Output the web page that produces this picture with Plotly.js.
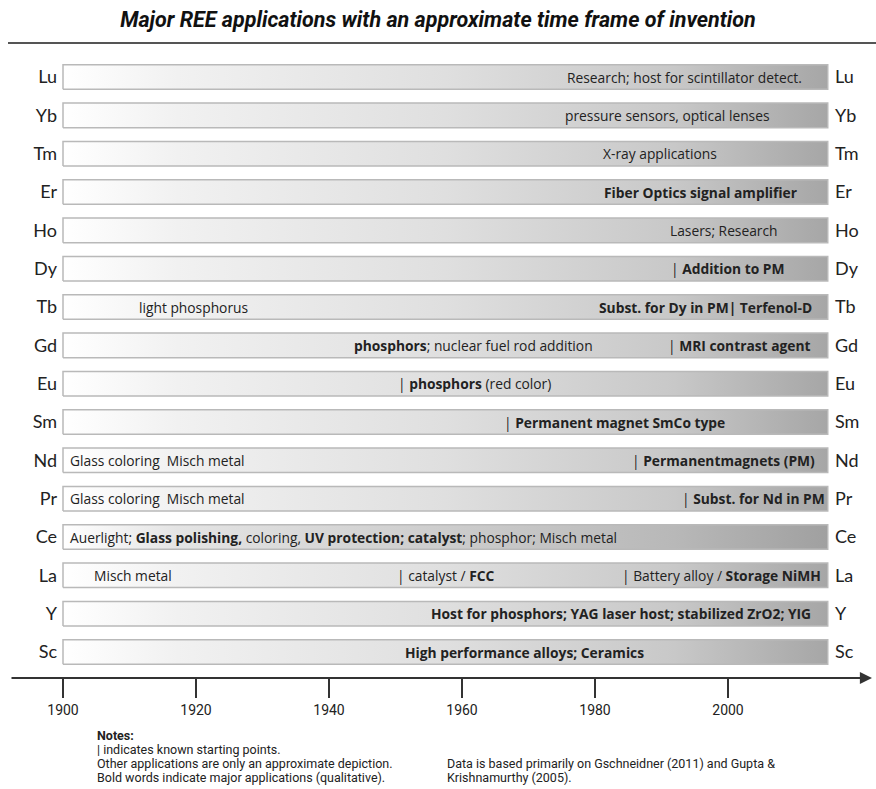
<!DOCTYPE html>
<html>
<head>
<meta charset="utf-8">
<script src="https://cdn.plot.ly/plotly-3.0.1.min.js"></script>
<style>html,body{margin:0;padding:0;background:#fff;}#chart{width:876px;height:789px;}</style>
</head>
<body>
<div id="chart"></div>
<script>
// ---- data ----
const elements = ['Lu','Yb','Tm','Er','Ho','Dy','Tb','Gd','Eu','Sm','Nd','Pr','Ce','La','Y','Sc'];
const barStart = [1900,1900,1900,1900,1900,1900,1900,1900,1900,1900,1900,1900,1900,1900,1900,1900];
const barEnd   = [2015,2015,2015,2015,2015,2015,2015,2015,2015,2015,2015,2015,2015,2015,2015,2015];
const xTicks = [1900,1920,1940,1960,1980,2000];

const labelElement = ['Lu','Yb','Tm','Er','Ho','Dy','Tb','Tb','Gd','Gd','Eu','Sm','Nd','Nd','Pr','Pr','Ce','La','La','La','Y','Sc'];
const labelYear = [1975.5,1975.2,1980.9,1981.1,1991.0,1991.1,1911.1,1980.3,1943.5,1990.7,1950.1,1966.0,1900.75,1985.3,1900.75,1992.8,1900.75,1904.4,1949.9,1983.8,1955.0,1951.1];
const labelText = [
  'Research; host for scintillator detect.',
  'pressure sensors, optical lenses',
  'X-ray applications',
  '<b>Fiber Optics signal amplifier</b>',
  'Lasers; Research',
  '| <b>Addition to PM</b>',
  'light phosphorus',
  '<b>Subst. for Dy in PM| Terfenol-D</b>',
  '<b>phosphors</b>; nuclear fuel rod addition',
  '| <b>MRI contrast agent</b>',
  '| <b>phosphors</b> (red color)',
  '| <b>Permanent magnet SmCo type</b>',
  'Glass coloring  Misch metal',
  '| <b>Permanentmagnets (PM)</b>',
  'Glass coloring  Misch metal',
  '| <b>Subst. for Nd in PM</b>',
  'Auerlight; <b>Glass polishing,</b> coloring, <b>UV protection; catalyst</b>; phosphor; Misch metal',
  'Misch metal',
  '| catalyst / <b>FCC</b>',
  '| Battery alloy / <b>Storage NiMH</b>',
  '<b>Host for phosphors; YAG laser host; stabilized ZrO2; YIG</b>',
  '<b>High performance alloys; Ceramics</b>'
];

const titleText = '<b><i>Major REE applications with an approximate time frame of invention</i></b>';
const notesLeft = ['<b>Notes:</b>', '| indicates known starting points.',
  'Other applications are only an approximate depiction.',
  'Bold words indicate major applications (qualitative).'];
const notesRight = ['Data is based primarily on Gschneidner (2011) and Gupta &amp;', 'Krishnamurthy (2005).'];

// ---- build ----
const n = elements.length;
const rowPos = elements.map((e, i) => n - 1 - i);
const half = 0.32;
const FONT = '"Open Sans", "Noto Sans", sans-serif';
const SMALL = 'Roboto, "Open Sans", sans-serif';

const normalScale = [[0,'#ffffff'],[0.15,'#f1f1f1'],[0.5,'#dfdfdf'],[0.8,'#c8c8c8'],[1,'#a6a6a6']];
const darkScale   = [[0,'#ffffff'],[0.15,'#e4e4e4'],[0.5,'#cdcdcd'],[0.8,'#b8b8b8'],[1,'#a0a0a0']];

const traces = elements.map((el, i) => {
  const y = rowPos[i];
  const s = barStart[i], e = barEnd[i];
  return {
    type: 'scatter', mode: 'lines',
    x: [s, e, e, s, s],
    y: [y - half, y - half, y + half, y + half, y - half],
    fill: 'toself',
    fillgradient: {type: 'horizontal', colorscale: el === 'Ce' ? darkScale : normalScale, start: s, stop: e},
    line: {color: '#b9b9b9', width: 1.5},
    hoverinfo: 'skip', showlegend: false
  };
});
traces.push({type:'scatter', mode:'markers', x:[barStart[0]], y:[rowPos[0]], yaxis:'y2',
  marker:{opacity:0}, hoverinfo:'skip', showlegend:false});

const annotations = labelText.map((t, k) => ({
  x: labelYear[k], y: rowPos[elements.indexOf(labelElement[k])],
  xref: 'x', yref: 'y', text: t, showarrow: false,
  xanchor: 'left', yanchor: 'middle',
  font: {family: FONT, size: 13.8, color: '#222'}
}));

const L = 60, R = 832, T = 50, B = 678;
const pw = R - L, ph = B - T;
annotations.push({
  xref: 'paper', yref: 'paper', x: (872 - L) / pw, y: 0,
  ax: -862, ay: 0, axref: 'pixel', ayref: 'pixel',
  text: '', showarrow: true, arrowhead: 2, arrowsize: 1.1, arrowwidth: 2.2,
  arrowcolor: '#333', standoff: 0
});
const noteRows = [735, 749, 763, 777];
notesLeft.forEach((t, k) => annotations.push({xref:'paper', yref:'paper', x:(95 - L)/pw, y:(B - noteRows[k])/ph,
  xanchor:'left', yanchor:'middle', showarrow:false, text: t,
  font:{family: SMALL, size: 12.5, color:'#222'}}));
notesRight.forEach((t, k) => annotations.push({xref:'paper', yref:'paper', x:(445 - L)/pw, y:(B - noteRows[k + 2])/ph,
  xanchor:'left', yanchor:'middle', showarrow:false, text: t,
  font:{family: SMALL, size: 12.5, color:'#222'}}));

const yRange = [-(B - 652) / 38.33, (652 - T) / 38.33];
const yCommon = {
  range: yRange, tickvals: rowPos, ticktext: elements,
  showgrid: false, zeroline: false, showline: false, ticks: '',
  tickfont: {family: 'Lato, "Open Sans", sans-serif', size: 18, color: '#222'}, fixedrange: true
};

const layout = {
  width: 876, height: 789,
  margin: {l: L, r: 876 - R, t: T, b: 789 - B},
  paper_bgcolor: '#fff', plot_bgcolor: '#fff',
  title: {text: titleText, x: 0.5, xref: 'container', y: 1 - 19/789, yref: 'container', yanchor: 'middle',
          font: {family: 'Roboto, sans-serif', size: 21.5, color: '#111'}},
  xaxis: {
    range: [1900 - (63 - L)/6.65, 1900 + (R - 63)/6.65],
    tickvals: xTicks, ticks: 'outside', ticklen: 19, tickwidth: 1.5, tickcolor: '#333',
    showgrid: false, zeroline: false, showline: false,
    tickfont: {family: 'Roboto, sans-serif', size: 14, color: '#222'}, fixedrange: true
  },
  yaxis: Object.assign({}, yCommon, {side: 'left', ticklabelstandoff: 2}),
  yaxis2: Object.assign({}, yCommon, {side: 'right', overlaying: 'y', ticklabelstandoff: 2}),
  shapes: [{type: 'line', xref: 'paper', yref: 'paper',
            x0: (8 - L)/pw, x1: (876 - L)/pw, y0: (B - 43)/ph, y1: (B - 43)/ph,
            line: {color: '#555', width: 2}}],
  annotations: annotations
};

Plotly.newPlot('chart', traces, layout, {displayModeBar: false, staticPlot: true});
</script>
</body>
</html>
